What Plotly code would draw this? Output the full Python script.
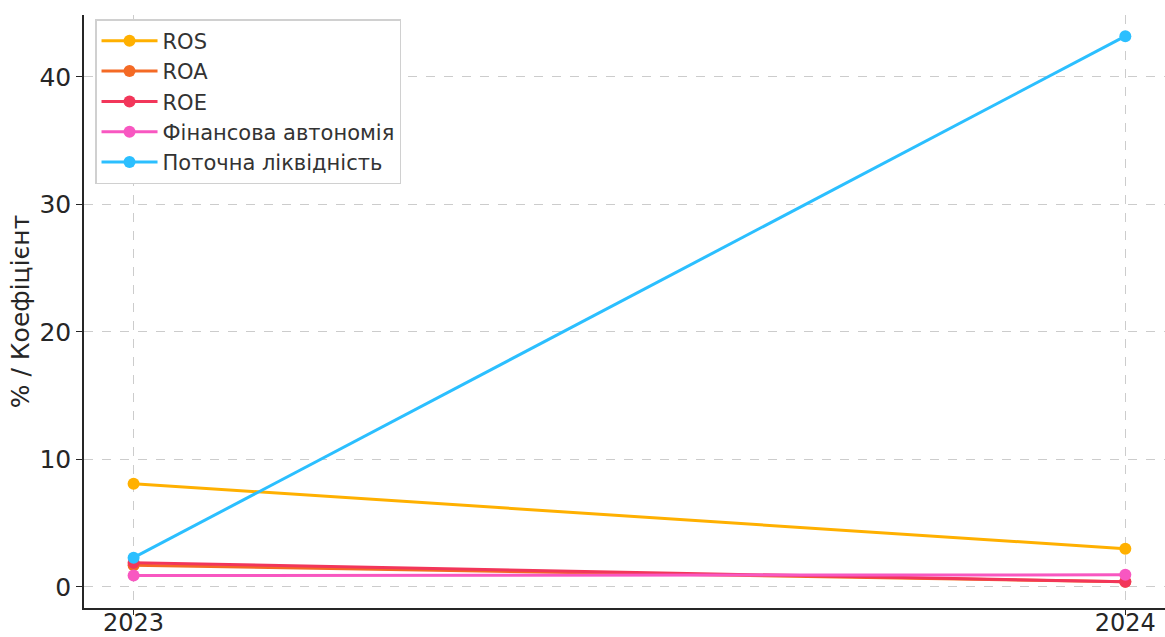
import plotly.graph_objects as go

years = [2023, 2024]
year_labels = ["2023", "2024"]
ros = [8.1, 3.0]
roa = [1.7, 0.4]
roe = [1.9, 0.4]
fin_autonomy = [0.9, 0.95]
liquidity = [2.3, 43.2]

series = [
    ("ROS", ros, "#FFB000"),
    ("ROA", roa, "#F46A25"),
    ("ROE", roe, "#F2365A"),
    ("Фінансова автономія", fin_autonomy, "#F857C1"),
    ("Поточна ліквідність", liquidity, "#2BBFFF"),
]

fig = go.Figure()
for name, vals, color in series:
    fig.add_trace(go.Scatter(
        x=years, y=vals, name=name, mode="lines+markers", legendgroup=name,
        line=dict(color=color, width=3),
        marker=dict(color=color, size=12),
    ))

font_family = "DejaVu Sans"
fig.update_layout(
    width=1165, height=637,
    margin=dict(l=84, r=0, t=15, b=29),
    plot_bgcolor="white", paper_bgcolor="white",
    font=dict(family=font_family, color="#262626", size=21),
    showlegend=True,
    legend=dict(
        x=0.0102, y=0.993, xanchor="left", yanchor="top",
        bgcolor="white", bordercolor="#D0D0D0", borderwidth=1.5,
        font=dict(size=21, color="#333333"),
        itemwidth=56, tracegroupgap=0,
    ),
    xaxis=dict(
        range=[2022.95, 2024.04], automargin=False,
        tickmode="array", tickvals=years, ticktext=year_labels,
        showgrid=True, gridcolor="#CCCCCC", griddash="dash", gridwidth=1,
        showline=True, linecolor="#262626", linewidth=1.5,
        ticks="outside", ticklen=5, tickcolor="#262626",
        ticklabelstandoff=-13,
        zeroline=False, tickfont=dict(size=24),
    ),
    yaxis=dict(
        range=[-1.65, 44.86], automargin=False,
        tickmode="array", tickvals=[0, 10, 20, 30, 40],
        showgrid=True, gridcolor="#CCCCCC", griddash="dash", gridwidth=1,
        showline=True, linecolor="#262626", linewidth=1.5,
        ticks="outside", ticklen=6, tickcolor="#262626",
        zeroline=False, tickfont=dict(size=25),
        title=dict(text="% / Коефіцієнт", font=dict(size=25), standoff=3),
    ),
)

fig.write_html("out.html")
